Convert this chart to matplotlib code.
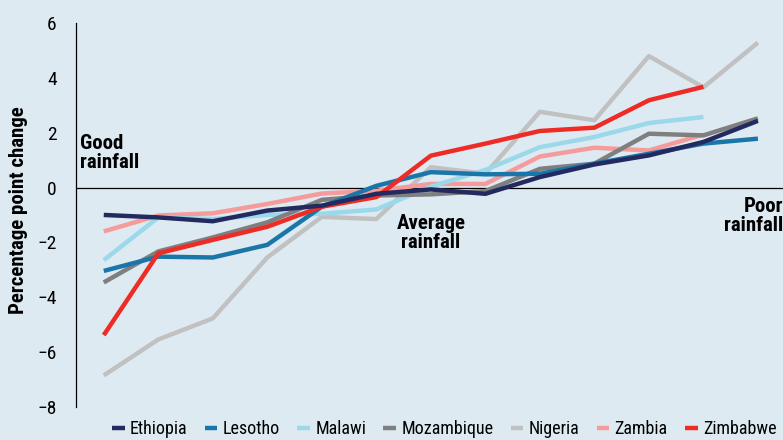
import numpy as np
import matplotlib
matplotlib.use('Agg')
import matplotlib.pyplot as plt

# donnees (13 classes de pluviometrie)
countries = ['Ethiopia', 'Lesotho', 'Malawi', 'Mozambique', 'Nigeria', 'Zambia', 'Zimbabwe']
ethiopia = [-1.0, -1.09, -1.23, -0.84, -0.66, -0.23, -0.07, -0.23, 0.38, 0.84, 1.17, 1.66, 2.43]
lesotho = [-3.04, -2.52, -2.55, -2.09, -0.7, 0.06, 0.56, 0.48, 0.5, 0.87, 1.23, 1.6, 1.78]
malawi = [-2.65, -1.09, -1.15, -1.0, -0.96, -0.8, 0.03, 0.64, 1.47, 1.84, 2.35, 2.57]
mozambique = [-3.46, -2.33, -1.82, -1.27, -0.45, -0.29, -0.25, -0.13, 0.68, 0.87, 1.96, 1.9, 2.52]
nigeria = [-6.85, -5.54, -4.77, -2.55, -1.07, -1.15, 0.74, 0.5, 2.76, 2.45, 4.79, 3.65, 5.28]
zambia = [-1.6, -1.02, -0.94, -0.6, -0.22, -0.12, 0.13, 0.13, 1.13, 1.45, 1.35, 1.93]
zimbabwe = [-5.38, -2.4, -1.91, -1.43, -0.7, -0.35, 1.16, 1.6, 2.06, 2.18, 3.18, 3.67]

series = [ethiopia, lesotho, malawi, mozambique, nigeria, zambia, zimbabwe]
colors = ['#232a5f', '#1a76a8', '#9ad8ea', '#7f7f80', '#c1c1c1', '#f69b9b', '#ee2b25']
zorders = [9, 6, 4, 5, 2, 3, 7]

plt.rcParams['font.family'] = ['Liberation Sans Narrow', 'DejaVu Sans Condensed',
                               'Roboto Condensed', 'Roboto', 'DejaVu Sans']
bg = '#deeaf2'

fig = plt.figure(figsize=(7.83, 4.40), dpi=100, facecolor=bg)
ax = fig.add_axes([0.097, 0.075, 0.903, 0.873], facecolor=bg)

for name, vals, c, z in zip(countries, series, colors, zorders):
    x = np.arange(len(vals))
    ax.plot(x, vals, color=c, lw=3.2, label=name, zorder=z, solid_capstyle='butt')

ax.axhline(0, color='black', lw=0.9, zorder=1)

ax.set_xlim(-0.51, 12.46)
ax.set_ylim(-8, 6)
ax.set_yticks(np.arange(-8, 7, 2))
ax.set_xticks([])
ax.tick_params(axis='y', length=0, pad=14, labelsize=14)
for s in ['top', 'right', 'bottom']:
    ax.spines[s].set_visible(False)
ax.spines['left'].set_linewidth(0.9)

fig.text(0.023, 0.523, 'Percentage point change', rotation=90, ha='center', va='center',
         fontsize=15, fontweight='bold')

ax.text(-0.44, 1.95, 'Good\nrainfall', ha='left', va='top', fontsize=15, fontweight='bold',
        linespacing=1.0)
ax.text(6.0, -0.98, 'Average\nrainfall', ha='center', va='top', fontsize=15, fontweight='bold',
        linespacing=1.0)
ax.text(12.47, -0.33, 'Poor\nrainfall', ha='right', va='top', fontsize=15, fontweight='bold',
        linespacing=1.0)

fig.legend(loc='lower right', bbox_to_anchor=(1.008, -0.024), ncol=7, frameon=False,
           fontsize=13, handlelength=0.7, handletextpad=0.3, columnspacing=0.95,
           borderpad=0.2)

plt.savefig('out.png', dpi=100, facecolor=bg)
